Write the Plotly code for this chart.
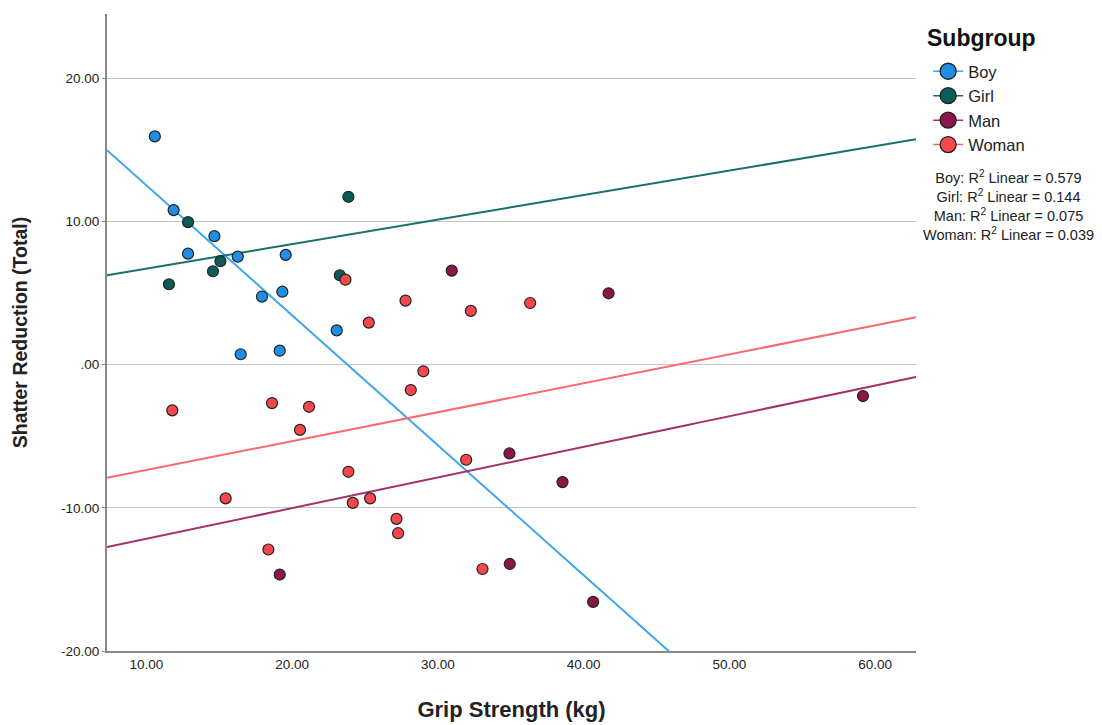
import numpy as np
import plotly.graph_objects as go

# ---- data ----
boy_x = [10.58, 11.87, 14.67, 12.86, 16.27, 19.56, 17.93, 19.33, 23.06, 16.47, 19.15]
boy_y = [15.95, 10.80, 8.98, 7.76, 7.55, 7.67, 4.76, 5.10, 2.40, 0.73, 0.98]

girl_x = [12.86, 15.08, 14.57, 11.55, 23.86, 23.27]
girl_y = [9.96, 7.23, 6.53, 5.62, 11.73, 6.25]

man_x = [30.95, 41.71, 19.15, 34.91, 34.93, 38.55, 40.65, 59.16]
man_y = [6.57, 4.99, -14.66, -6.20, -13.92, -8.20, -16.57, -2.19]

woman_x = [23.66, 27.78, 25.26, 32.26, 36.33, 29.00, 28.14, 11.78, 18.62, 21.16,
           20.54, 23.86, 15.44, 24.16, 25.35, 27.16, 27.27, 31.94, 18.37, 33.06]
woman_y = [5.94, 4.48, 2.94, 3.76, 4.31, -0.46, -1.77, -3.19, -2.68, -2.94,
           -4.55, -7.48, -9.34, -9.65, -9.34, -10.77, -11.77, -6.64, -12.91, -14.27]

groups = ["Boy", "Girl", "Man", "Woman"]
r2_values = ["0.579", "0.144", "0.075", "0.039"]
x_ticks = [10, 20, 30, 40, 50, 60]
x_tick_labels = ["10.00", "20.00", "30.00", "40.00", "50.00", "60.00"]
y_ticks = [20, 10, 0, -10, -20]
y_tick_labels = ["20.00", "10.00", ".00", "-10.00", "-20.00"]

series = {
    "Boy": (boy_x, boy_y),
    "Girl": (girl_x, girl_y),
    "Man": (man_x, man_y),
    "Woman": (woman_x, woman_y),
}
marker_colors = {"Boy": "#1f8ee6", "Girl": "#0b5c57", "Man": "#8c1549", "Woman": "#f6474f"}
line_colors = {"Boy": "#3fa6ef", "Girl": "#1b6f6a", "Man": "#a3326a", "Woman": "#fb6a6f"}

X_RANGE = [7.3, 62.8]
Y_RANGE = [-20, 24.5]

fig = go.Figure()

# fit lines (computed from the points)
for g in groups:
    xs, ys = series[g]
    slope, icpt = np.polyfit(xs, ys, 1)
    lx = np.linspace(X_RANGE[0], X_RANGE[1], 200)
    ly = slope * lx + icpt
    fig.add_trace(go.Scatter(x=lx, y=ly, mode="lines",
                             line=dict(color=line_colors[g], width=2),
                             showlegend=False, hoverinfo="skip"))

# points
for g in groups:
    xs, ys = series[g]
    fig.add_trace(go.Scatter(x=xs, y=ys, mode="markers", name=g, showlegend=False,
                             marker=dict(size=11, color=marker_colors[g],
                                         line=dict(color="#222222", width=1.2))))

# legend entries
for g in groups:
    fig.add_trace(go.Scatter(x=[None], y=[None], mode="lines+markers", name=g,
                             marker=dict(size=16, color=marker_colors[g],
                                         line=dict(color="#222222", width=1.3)),
                             line=dict(color=line_colors[g], width=1.5)))

# legend title as annotation
fig.add_annotation(xref="paper", yref="paper", x=1.0117, y=(651 - 38) / 637,
                   xanchor="left", yanchor="middle", text="<b>Subgroup</b>",
                   showarrow=False, font=dict(family="Liberation Sans, Arial", size=23,
                                              color="#111111"))

r2_text = "<br>".join(f"{g}: R<sup>2</sup> Linear = {v}" for g, v in zip(groups, r2_values))
fig.add_annotation(xref="paper", yref="paper", x=1.114, y=0.70, xanchor="center",
                   yanchor="middle", text=r2_text, showarrow=False, align="center",
                   font=dict(family="Liberation Sans, Arial", size=14.5, color="#222222"))

fig.update_layout(
    width=1102, height=725,
    margin=dict(l=107, r=186, t=14, b=74),
    paper_bgcolor="white", plot_bgcolor="white",
    font=dict(family="Liberation Sans, Arial", color="#222222"),
    legend=dict(x=1.015, y=(651 - 54) / 637, xanchor="left", yanchor="top",
                font=dict(size=16.5), tracegroupgap=0, itemwidth=30,
                bgcolor="rgba(0,0,0,0)"),
    xaxis=dict(range=X_RANGE, tickvals=x_ticks, ticktext=x_tick_labels,
               showgrid=False, zeroline=False, showline=True, linecolor="#888888",
               linewidth=2, ticks="", tickfont=dict(size=13.5), automargin=False,
               title=dict(text="<b>Grip Strength (kg)</b>", font=dict(size=22), standoff=30)),
    yaxis=dict(range=Y_RANGE, tickvals=y_ticks, ticktext=y_tick_labels,
               showgrid=True, gridcolor="#c4c4c4", gridwidth=1.3, zeroline=False,
               showline=True, linecolor="#888888", linewidth=2, automargin=False,
               ticks="outside", ticklen=3, tickcolor="#888888",
               tickfont=dict(size=13.5),
               title=dict(text="<b>Shatter Reduction (Total)</b>", font=dict(size=19.5), standoff=28)),
)

fig.write_html("out.html")
